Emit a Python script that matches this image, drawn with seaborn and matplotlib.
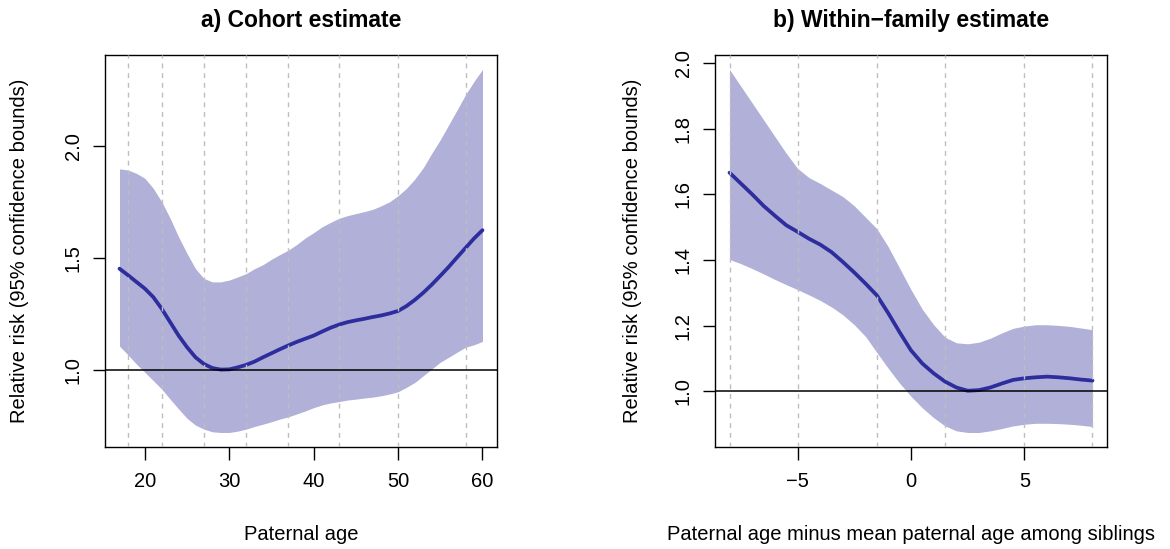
import matplotlib
matplotlib.use("Agg")
import matplotlib.pyplot as plt
import numpy as np
import pandas as pd
import seaborn as sns

# ---------------- data ----------------
# a) Cohort estimate
age_a = [17, 18, 19, 20, 21, 22, 23, 24, 25, 26, 27, 28, 29, 30, 31, 32, 33, 34, 35, 36, 37, 38,
         39, 40, 41, 42, 43, 44, 45, 46, 47, 48, 49, 50, 51, 52, 53, 54, 55, 56, 57, 58, 59, 60]
rr_a = [1.451, 1.422, 1.392, 1.362, 1.324, 1.272, 1.212, 1.152, 1.100, 1.055, 1.025, 1.007,
        1.000, 1.001, 1.010, 1.021, 1.036, 1.055, 1.073, 1.091, 1.108, 1.124, 1.138, 1.152,
        1.170, 1.187, 1.201, 1.212, 1.220, 1.227, 1.235, 1.242, 1.251, 1.262, 1.284, 1.312,
        1.344, 1.380, 1.419, 1.459, 1.502, 1.544, 1.586, 1.623]
hi_a = [1.897, 1.892, 1.877, 1.855, 1.810, 1.750, 1.676, 1.593, 1.519, 1.451, 1.407, 1.392,
        1.392, 1.400, 1.414, 1.429, 1.451, 1.469, 1.493, 1.514, 1.534, 1.559, 1.588, 1.612,
        1.638, 1.658, 1.676, 1.688, 1.697, 1.706, 1.716, 1.732, 1.750, 1.777, 1.810, 1.852,
        1.903, 1.967, 2.027, 2.094, 2.161, 2.229, 2.288, 2.341]
lo_a = [1.105, 1.066, 1.025, 0.988, 0.951, 0.913, 0.868, 0.824, 0.782, 0.752, 0.734, 0.722,
        0.719, 0.719, 0.725, 0.734, 0.746, 0.756, 0.767, 0.779, 0.789, 0.802, 0.815, 0.830,
        0.842, 0.851, 0.857, 0.864, 0.868, 0.873, 0.877, 0.883, 0.891, 0.901, 0.921, 0.943,
        0.973, 1.003, 1.033, 1.055, 1.078, 1.100, 1.111, 1.126]
knots_a = [18, 22, 27, 32, 37, 43, 50, 58]
xticks_a = [20, 30, 40, 50, 60]
yticks_a = [1.0, 1.5, 2.0]

# b) Within-family estimate
diff_b = [-8, -7.5, -7, -6.5, -6, -5.5, -5, -4.5, -4, -3.5, -3, -2.5, -2, -1.5, -1, -0.5, 0,
          0.5, 1, 1.5, 2, 2.5, 3, 3.5, 4, 4.5, 5, 5.5, 6, 6.5, 7, 7.5, 8]
rr_b = [1.666, 1.633, 1.600, 1.565, 1.535, 1.506, 1.486, 1.465, 1.447, 1.424, 1.394, 1.362,
        1.328, 1.292, 1.238, 1.180, 1.125, 1.085, 1.055, 1.030, 1.012, 1.002, 1.004, 1.012,
        1.024, 1.035, 1.040, 1.043, 1.045, 1.043, 1.040, 1.036, 1.033]
hi_b = [1.980, 1.929, 1.878, 1.827, 1.776, 1.725, 1.679, 1.651, 1.633, 1.613, 1.593, 1.565,
        1.530, 1.495, 1.440, 1.375, 1.310, 1.250, 1.203, 1.165, 1.148, 1.145, 1.150, 1.162,
        1.178, 1.192, 1.199, 1.203, 1.203, 1.201, 1.198, 1.193, 1.188]
lo_b = [1.402, 1.389, 1.374, 1.358, 1.341, 1.325, 1.310, 1.294, 1.277, 1.257, 1.233, 1.203,
        1.167, 1.118, 1.070, 1.025, 0.985, 0.950, 0.920, 0.895, 0.880, 0.875, 0.875, 0.880,
        0.887, 0.895, 0.900, 0.903, 0.903, 0.902, 0.900, 0.897, 0.893]
knots_b = [-8, -5, -1.5, 1.5, 5, 8]
xticks_b = [-5, 0, 5]
yticks_b = [1.0, 1.2, 1.4, 1.6, 1.8, 2.0]

titles = ["a) Cohort estimate", "b) Within\u2212family estimate"]
xlabels = ["Paternal age", "Paternal age minus mean paternal age among siblings"]
ylabel = "Relative risk (95% confidence bounds)"

# ---------------- style ----------------
sns.set_theme(style="white")
plt.rcParams["font.family"] = ["Liberation Sans", "DejaVu Sans"]
for k in ["text.color", "axes.labelcolor", "xtick.color", "ytick.color", "axes.edgecolor"]:
    plt.rcParams[k] = "black"

BAND = "#B0B0D8"
LINE = "#2D2D9E"
DASH = "#BEBEBE"
FS = 14.5

W, H = 1170, 549
fig = plt.figure(figsize=(W / 100, H / 100), dpi=100)
ax1 = fig.add_axes([105 / W, 1 - 447 / H, 392 / W, 392 / H])
ax2 = fig.add_axes([715 / W, 1 - 447 / H, 392 / W, 392 / H])

panels = [
    (ax1, age_a, rr_a, lo_a, hi_a, knots_a, xticks_a, yticks_a),
    (ax2, diff_b, rr_b, lo_b, hi_b, knots_b, xticks_b, yticks_b),
]

for i, (ax, x, rr, lo, hi, knots, xt, yt) in enumerate(panels):
    df = pd.DataFrame({"x": x, "rr": rr, "lo": lo, "hi": hi})
    ax.fill_between(df["x"], df["lo"], df["hi"], color=BAND, linewidth=0, zorder=1)
    sns.lineplot(data=df, x="x", y="rr", ax=ax, color=LINE, linewidth=2.7, zorder=3)
    for k in knots:
        ax.axvline(k, color=DASH, linewidth=1.0, linestyle=(0, (3.5, 3.5)), zorder=4)
    ax.axhline(1.0, color="black", linewidth=1.1, zorder=5)

    # R-style 4% axis extension
    xr = max(x) - min(x)
    yr = max(hi) - min(lo)
    ax.set_xlim(min(x) - 0.04 * xr, max(x) + 0.04 * xr)
    ax.set_ylim(min(lo) - 0.04 * yr, max(hi) + 0.04 * yr)
    ax.set_xticks(xt)
    ax.set_yticks(yt)
    ax.set_xticklabels([f"{v:g}".replace("-", "\u2212") for v in xt])
    ax.set_yticklabels([f"{v:.1f}" for v in yt])
    ax.tick_params(axis="both", direction="out", length=9, width=1.0,
                   labelsize=FS, colors="black")
    ax.tick_params(axis="x", pad=9, bottom=True)
    ax.tick_params(axis="y", pad=7, left=True, labelrotation=90)
    for lab in ax.get_yticklabels():
        lab.set_va("center")
    for s in ax.spines.values():
        s.set_visible(True)
        s.set_color("black")
        s.set_linewidth(1.0)

    ax.set_xlabel(xlabels[i], fontsize=FS)
    ax.set_ylabel(ylabel, fontsize=FS)
    ax.xaxis.set_label_coords(0.5, -87 / 392)
    ax.xaxis.label.set_va("center")
    ax.yaxis.set_label_coords(-85 / 392 if i == 0 else -83 / 392, 0.5)
    ax.yaxis.label.set_va("center")
    ax.text(0.5, 1 + 35 / 392, titles[i], transform=ax.transAxes, ha="center",
            va="center", fontsize=16.5, fontweight="bold")

fig.savefig("out.png", dpi=100)
